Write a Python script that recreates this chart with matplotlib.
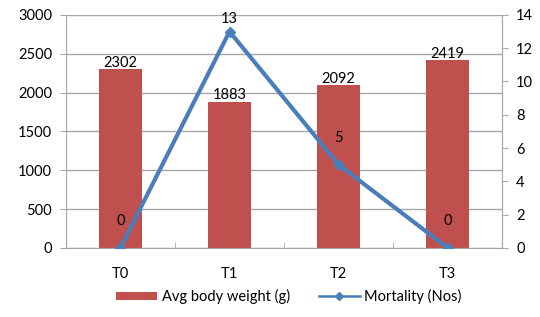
import numpy as np
import matplotlib.pyplot as plt
from matplotlib.ticker import MultipleLocator, FixedLocator
from matplotlib.lines import Line2D

plt.rcParams['font.family'] = ['Lato', 'DejaVu Sans']

treatments = ['T0', 'T1', 'T2', 'T3']
body_weight = [2302, 1883, 2092, 2419]
mortality = [0, 13, 5, 0]

bar_color = '#C0504D'
line_color = '#4A7EBB'
grid_color = '#A6A6A6'
fs = 10.5

fig = plt.figure(figsize=(5.4, 3.17), dpi=100)
ax = fig.add_axes([0.122, 0.218, 0.808, 0.735])
x = np.arange(len(treatments))

bars = ax.bar(x, body_weight, width=0.4, color=bar_color, zorder=2,
              label='Avg body weight (g)')
for xi, v in zip(x, body_weight):
    ax.text(xi, v - 10, str(v), ha='center', va='bottom', fontsize=fs, zorder=5)

ax.set_ylim(0, 3000)
ax.set_xlim(-0.5, 3.5)
ax.yaxis.set_major_locator(MultipleLocator(500))
ax.set_xticks(x)
ax.set_xticklabels(treatments)
ax.xaxis.set_minor_locator(FixedLocator(np.arange(-0.5, 4, 1)))
ax.tick_params(axis='x', which='major', length=0, pad=14, labelsize=fs)
ax.tick_params(axis='x', which='minor', length=4, color=grid_color, direction='in')
ax.tick_params(axis='y', length=4, color=grid_color, labelsize=fs, pad=6)
ax.grid(axis='y', color=grid_color, linewidth=1, zorder=0)
for s in ['left', 'bottom', 'right']:
    ax.spines[s].set_color(grid_color)
ax.spines['top'].set_visible(False)

ax2 = ax.twinx()
ax2.set_ylim(0, 14)
ax2.yaxis.set_major_locator(MultipleLocator(2))
ln, = ax2.plot(x, mortality, color=line_color, linewidth=3, marker='D',
               markersize=5, zorder=4, label='Mortality (Nos)')
# label offsets (points) above each marker; the top one is squeezed in
label_offsets = [14, 4, 14, 14]
for xi, v, off in zip(x, mortality, label_offsets):
    ax2.annotate(str(v), (xi, v), xytext=(0, off), textcoords='offset points',
                 ha='center', va='bottom', fontsize=fs)
ax2.tick_params(axis='y', length=4, color=grid_color, labelsize=fs, pad=6)
for s in ['left', 'bottom', 'right', 'top']:
    ax2.spines[s].set_visible(False)
ax2.spines['right'].set_visible(True)
ax2.spines['right'].set_color(grid_color)

leg_line = Line2D([], [], color=line_color, linewidth=1.8, marker='D', markersize=4)
fig.legend([bars, leg_line], ['Avg body weight (g)', 'Mortality (Nos)'],
           loc='lower center', bbox_to_anchor=(0.535, 0.0), ncol=2,
           frameon=False, fontsize=fs, handlelength=2.8, handleheight=0.5,
           handletextpad=0.3, columnspacing=2.0)

fig.savefig('out.png', dpi=100)
